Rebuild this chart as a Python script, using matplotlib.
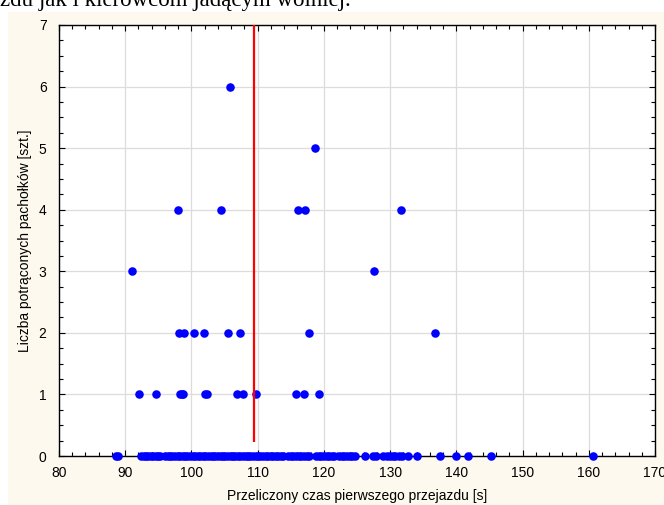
# Scatter: liczba potraconych pacholkow vs przeliczony czas przejazdu

import numpy as np
import matplotlib.pyplot as plt
from matplotlib.patches import Rectangle
from matplotlib.ticker import MultipleLocator

# Dane (czas [s] dla kazdej liczby pacholkow)
czas_0 = [88.6, 88.9,
          92.4, 92.8, 93.1, 93.5, 93.9, 94.2, 94.6, 94.9, 95.2,
          96.0, 96.4, 96.8, 97.1, 97.5, 97.9, 98.3, 98.7, 99.0, 99.4,
          99.8, 100.2, 100.6, 101.0, 101.3, 101.7, 102.1, 102.5, 102.9,
          103.2, 103.6, 104.0, 104.4, 104.8, 105.1, 105.5, 105.9, 106.3,
          106.6, 107.0, 107.4, 107.8, 108.2, 108.5, 108.9, 109.3, 109.7,
          110.1, 110.4, 110.8, 111.2, 111.6, 112.0, 112.3, 112.7, 113.1,
          113.5, 113.9, 114.6, 115.0, 115.4, 115.8, 116.2, 116.6, 117.0,
          117.4, 117.8,
          118.8, 119.2, 119.6, 120.0, 120.4, 120.8, 121.2, 121.6, 122.3,
          122.7, 123.1, 123.5, 123.9, 124.3, 124.7,
          126.2, 127.4, 127.8, 129.0, 129.5, 130.0, 130.4, 130.8, 131.3,
          131.8, 132.7, 134.1, 137.5, 139.9, 141.7, 145.3, 160.6]
czas_1 = [92.1, 94.6, 98.2, 98.5, 98.8, 102.0, 102.4, 106.9, 107.8, 109.8,
          115.8, 117.0, 119.3]
czas_2 = [98.1, 98.9, 100.4, 101.9, 105.5, 107.3, 117.8, 136.8]
czas_3 = [91.0, 127.6]
czas_4 = [97.9, 104.4, 116.1, 117.1, 131.6]
czas_5 = [118.6]
czas_6 = [105.8]

srednia = 109.4  # czerwona linia

x = czas_0 + czas_1 + czas_2 + czas_3 + czas_4 + czas_5 + czas_6
y = ([0] * len(czas_0) + [1] * len(czas_1) + [2] * len(czas_2) + [3] * len(czas_3)
     + [4] * len(czas_4) + [5] * len(czas_5) + [6] * len(czas_6))

plt.rcParams['font.family'] = ['Liberation Sans', 'DejaVu Sans']

fig = plt.figure(figsize=(6.64, 5.05), dpi=100)
fig.patch.set_facecolor('white')

# kremowe tlo pod wykresem
fig.patches.append(Rectangle((8 / 664, 0), 1, (505 - 12) / 505, transform=fig.transFigure,
                             facecolor='#fdf9ee', edgecolor='none', zorder=-1))

# uciety tekst z dokumentu nad wykresem
fig.text(0.0, 1 - 6 / 505, 'zdu jak i kierowcom jadącym wolniej.', family='Liberation Serif',
         fontsize=16.5, va='baseline', ha='left')

ax = fig.add_axes([59 / 664, 49 / 505, 596 / 664, 431 / 505])
ax.set_zorder(1)
ax.set_facecolor('white')

ax.scatter(x, y, s=38, color='#0000ff', zorder=3, clip_on=False, linewidths=0)
ax.vlines(srednia, 0.22, 7, color='#ff0000', lw=1.6, zorder=4)

ax.set_xlim(80, 170)
ax.set_ylim(0, 7)
ax.xaxis.set_major_locator(MultipleLocator(10))
ax.xaxis.set_minor_locator(MultipleLocator(2))
ax.yaxis.set_major_locator(MultipleLocator(1))
ax.yaxis.set_minor_locator(MultipleLocator(0.25))
ax.tick_params(which='both', direction='in', top=True, right=True, labelsize=10)
ax.tick_params(which='major', length=4, width=0.8)
ax.tick_params(which='minor', length=3, width=0.8)
ax.tick_params(axis='x', pad=7)
ax.tick_params(axis='y', pad=9)
ax.grid(True, which='major', color='#dcdcdc', lw=0.9)
ax.set_axisbelow(True)
for s in ax.spines.values():
    s.set_linewidth(1.0)

ax.set_xlabel('Przeliczony czas pierwszego przejazdu [s]', fontsize=10, labelpad=7)
ax.set_ylabel('Liczba potrąconych pachołków [szt.]', fontsize=10, labelpad=5)

fig.savefig('out.png', dpi=100)
